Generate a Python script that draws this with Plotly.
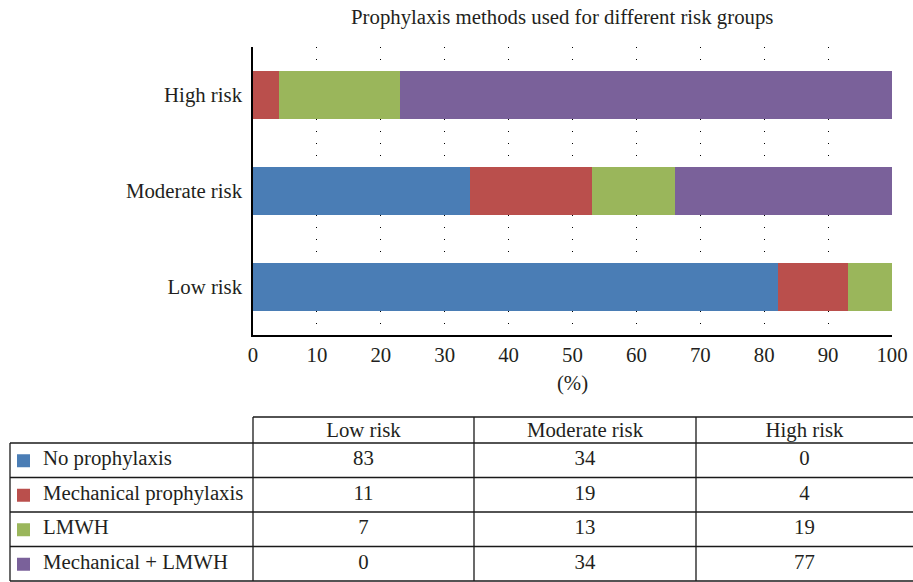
import plotly.graph_objects as go

# ---------------- data ----------------
groups = ["Low risk", "Moderate risk", "High risk"]
methods = ["No prophylaxis", "Mechanical prophylaxis", "LMWH", "Mechanical + LMWH"]
no_prophylaxis = [83, 34, 0]
mechanical = [11, 19, 4]
lmwh = [7, 13, 19]
mech_lmwh = [0, 34, 77]
x_ticks = [0, 10, 20, 30, 40, 50, 60, 70, 80, 90, 100]
title_text = "Prophylaxis methods used for different risk groups"

series = [no_prophylaxis, mechanical, lmwh, mech_lmwh]
colors = ["#4a7db5", "#ba4f4c", "#9ab65b", "#7a619a"]

# ---------------- style / layout constants ----------------
W, H = 913, 582
FONT = "Liberation Serif"
TXT = "#231f20"
FS = 20.8

fig = go.Figure()

for name, vals, col in zip(methods, series, colors):
    fig.add_trace(go.Bar(
        y=groups, x=vals, name=name, orientation="h",
        marker=dict(color=col, line=dict(width=0)),
        xaxis="x", yaxis="y", showlegend=False,
    ))

# ---------------- table (own axes, pixel-like units) ----------------
col_widths = [243, 221, 222, 217]
header_h = 26
row_h = 34.5
edges = [0]
for w in col_widths:
    edges.append(edges[-1] + w)
centers = [(edges[i] + edges[i + 1]) / 2 for i in range(len(col_widths))]
row_edges = [0, header_h] + [header_h + row_h * (i + 1) for i in range(len(methods))]
row_centers = [header_h + row_h * (i + 0.5) for i in range(len(methods))]

# header text
fig.add_trace(go.Scatter(
    x=centers[1:], y=[header_h / 2 + 1.5] * len(groups), text=groups, mode="text",
    textposition="middle center", textfont=dict(family=FONT, size=FS, color=TXT),
    xaxis="x2", yaxis="y2", showlegend=False, hoverinfo="skip",
))
# legend squares
fig.add_trace(go.Scatter(
    x=[13.5] * len(methods), y=[c + 0.5 for c in row_centers], mode="markers",
    marker=dict(symbol="square", size=13, color=colors, line=dict(width=0)),
    xaxis="x2", yaxis="y2", showlegend=False, hoverinfo="skip",
))
# row labels
fig.add_trace(go.Scatter(
    x=[33] * len(methods), y=row_centers, text=methods, mode="text",
    textposition="middle right", textfont=dict(family=FONT, size=FS, color=TXT),
    xaxis="x2", yaxis="y2", showlegend=False, hoverinfo="skip",
))
# values
for gi, g in enumerate(groups):
    fig.add_trace(go.Scatter(
        x=[centers[gi + 1]] * len(methods), y=row_centers,
        text=[str(s[gi]) for s in series], mode="text",
        textposition="middle center", textfont=dict(family=FONT, size=FS, color=TXT),
        xaxis="x2", yaxis="y2", showlegend=False, hoverinfo="skip",
    ))

shapes = []
line = dict(color="#1a1a1a", width=1.3)
# header top line (not over first column)
shapes.append(dict(type="line", xref="x2", yref="y2", x0=edges[1], x1=edges[-1],
                   y0=0, y1=0, line=line))
for ry in row_edges[1:]:
    shapes.append(dict(type="line", xref="x2", yref="y2", x0=edges[0], x1=edges[-1],
                       y0=ry, y1=ry, line=line))
shapes.append(dict(type="line", xref="x2", yref="y2", x0=edges[0], x1=edges[0],
                   y0=row_edges[1], y1=row_edges[-1], line=line))
for ex in edges[1:-1]:
    shapes.append(dict(type="line", xref="x2", yref="y2", x0=ex, x1=ex,
                       y0=0, y1=row_edges[-1], line=line))

fig.update_layout(
    width=W, height=H, autosize=False,
    margin=dict(l=0, r=0, t=0, b=0, autoexpand=False),
    paper_bgcolor="white", plot_bgcolor="white",
    barmode="stack", barnorm="percent", bargap=0.49,
    font=dict(family=FONT, size=FS, color=TXT),
    shapes=shapes,
    xaxis=dict(
        domain=[253 / W, 892 / W], range=[0, 100], tickvals=x_ticks,
        showgrid=True, gridcolor="#000000", gridwidth=1, griddash="1px,11px",
        zeroline=False, showline=True, linecolor="#000000", linewidth=1.5,
        ticks="", ticklabelstandoff=0, automargin=False,
        tickfont=dict(family=FONT, size=FS, color=TXT),
        title=dict(text="(%)", font=dict(family=FONT, size=FS, color=TXT), standoff=11),
        fixedrange=True,
    ),
    yaxis=dict(
        domain=[1 - 335 / H, 1 - 47 / H], categoryorder="array", categoryarray=groups,
        showgrid=False, zeroline=False, showline=True, linecolor="#000000", linewidth=1.5,
        ticks="", ticklabelstandoff=5, automargin=False,
        tickfont=dict(family=FONT, size=FS, color=TXT),
        fixedrange=True,
    ),
    xaxis2=dict(domain=[9 / W, 1], range=[-1, 903], visible=False, fixedrange=True,
                automargin=False),
    yaxis2=dict(domain=[0, 1 - 415 / H], range=[165, -2], visible=False, fixedrange=True,
                automargin=False),
    annotations=[dict(
        text=title_text, xref="paper", yref="paper", x=562 / W, y=1 - 17 / H,
        xanchor="center", yanchor="middle", showarrow=False,
        font=dict(family=FONT, size=FS, color=TXT),
    )],
)

fig.write_html(
    "out.html",
    config={"displayModeBar": False, "responsive": False},
    default_width="913px", default_height="582px",
    post_script="document.body.style.margin='0';document.body.style.overflow='hidden';",
)
